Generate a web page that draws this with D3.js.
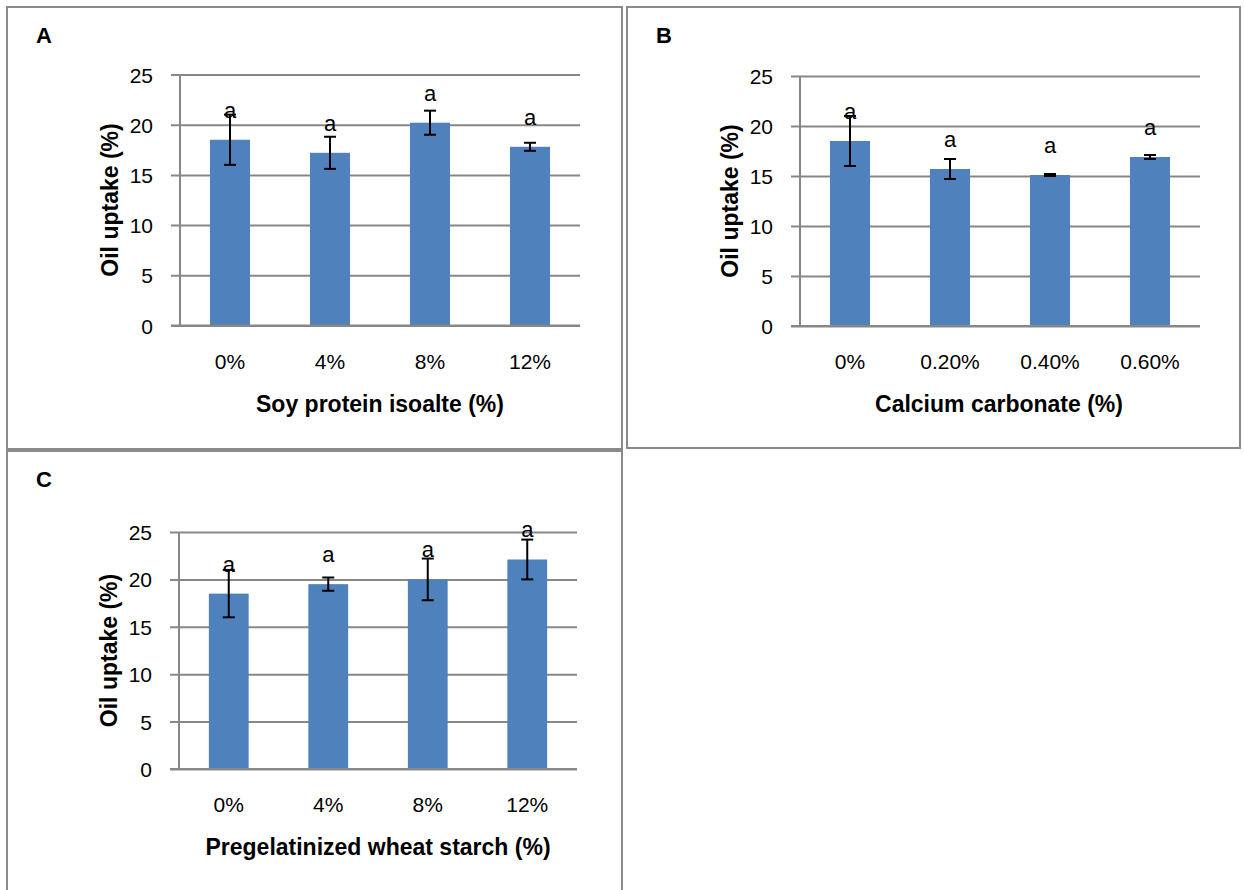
<!DOCTYPE html>
<html><head><meta charset="utf-8">
<script src="https://cdn.jsdelivr.net/npm/d3@7"></script>
<style>body{margin:0;background:#fff}svg{display:block}</style>
</head><body>
<svg id="c" width="1244" height="890"></svg>
<script>
// ---- data ----
const catsA = ["0%", "4%", "8%", "12%"];
const valsA = [18.5, 17.2, 20.2, 17.8];
const errA  = [2.5, 1.6, 1.2, 0.4];
const lblA  = ["a", "a", "a", "a"];

const catsB = ["0%", "0.20%", "0.40%", "0.60%"];
const valsB = [18.5, 15.7, 15.1, 16.9];
const errB  = [2.5, 1.0, 0.1, 0.2];
const lblB  = ["a", "a", "a", "a"];

const catsC = ["0%", "4%", "8%", "12%"];
const valsC = [18.5, 19.5, 20.0, 22.1];
const errC  = [2.5, 0.7, 2.2, 2.1];
const lblC  = ["a", "a", "a", "a"];

const yTicks = [0, 5, 10, 15, 20, 25];
const yTitle = "Oil uptake (%)";
const xTitles = ["Soy protein isoalte (%)", "Calcium carbonate (%)", "Pregelatinized wheat starch (%)"];
const panelLetters = ["A", "B", "C"];

// ---- layout ----
const panels = [
  {letter: panelLetters[0], cats: catsA, vals: valsA, errs: errA, lbls: lblA, xt: xTitles[0],
   frame: [7, 7, 622, 449], x0: 180, x1: 580, yTop: 74.5, yBot: 325.5, xtCx: 380},
  {letter: panelLetters[1], cats: catsB, vals: valsB, errs: errB, lbls: lblB, xt: xTitles[1],
   frame: [627, 7, 1240, 448], x0: 800, x1: 1200, yTop: 76, yBot: 326, xtCx: 999},
  {letter: panelLetters[2], cats: catsC, vals: valsC, errs: errC, lbls: lblC, xt: xTitles[2],
   frame: [7, 451, 622, 895], x0: 179, x1: 577, yTop: 532, yBot: 769, xtCx: 378}
];

const svg = d3.select("#c");
const FONT = "'Liberation Sans', Arial, sans-serif";
const GRID = "#878787";
const BAR = "#4F81BD";

panels.forEach(p => {
  const g = svg.append("g");
  const [fx0, fy0, fx1, fy1] = p.frame;
  g.append("rect").attr("x", fx0).attr("y", fy0).attr("width", fx1 - fx0).attr("height", fy1 - fy0)
    .attr("fill", "#fff").attr("stroke", "#8a8a8a").attr("stroke-width", 2);

  g.append("text").attr("x", fx0 + 29).attr("y", fy0 + 36).text(p.letter)
    .attr("font-family", FONT).attr("font-weight", "bold").attr("font-size", 22).attr("fill", "#000");

  const x = d3.scaleBand().domain(p.cats).range([p.x0, p.x1]).paddingInner(0.6).paddingOuter(0.3);
  const y = d3.scaleLinear().domain([0, 25]).range([p.yBot, p.yTop]);

  // gridlines + ticks
  const yAxis = d3.axisLeft(y).tickValues(yTicks).tickSize(-(p.x1 - p.x0)).tickPadding(0).tickFormat(d => d);
  const ya = g.append("g").attr("transform", `translate(${p.x0},0)`).call(yAxis);
  ya.select(".domain").remove();
  ya.selectAll(".tick line").attr("stroke", GRID).attr("stroke-width", 2).attr("x1", -9);
  ya.selectAll(".tick text").attr("x", -27).attr("dy", "0.36em")
    .attr("font-family", FONT).attr("font-size", 21).attr("fill", "#000");

  // vertical axis line
  g.append("line").attr("x1", p.x0).attr("x2", p.x0).attr("y1", p.yTop).attr("y2", p.yBot)
    .attr("stroke", GRID).attr("stroke-width", 2);

  // bars
  g.selectAll("rect.bar").data(p.vals).enter().append("rect").attr("class", "bar")
    .attr("x", (d, i) => x(p.cats[i])).attr("width", x.bandwidth())
    .attr("y", d => y(d)).attr("height", d => y(0) - y(d)).attr("fill", BAR);

  // baseline redraw over bars
  g.append("line").attr("x1", p.x0 - 9).attr("x2", p.x1).attr("y1", y(0)).attr("y2", y(0))
    .attr("stroke", GRID).attr("stroke-width", 2);

  // error bars
  const eb = g.selectAll("g.eb").data(p.vals).enter().append("g").attr("class", "eb");
  const cx = i => x(p.cats[i]) + x.bandwidth() / 2;
  eb.append("line").attr("x1", (d, i) => cx(i)).attr("x2", (d, i) => cx(i))
    .attr("y1", (d, i) => y(d - p.errs[i])).attr("y2", (d, i) => y(d + p.errs[i]))
    .attr("stroke", "#000").attr("stroke-width", 2);
  [-1, 1].forEach(s => {
    eb.append("line").attr("x1", (d, i) => cx(i) - 6).attr("x2", (d, i) => cx(i) + 6)
      .attr("y1", (d, i) => y(d + s * p.errs[i])).attr("y2", (d, i) => y(d + s * p.errs[i]))
      .attr("stroke", "#000").attr("stroke-width", 2);
  });

  // letters
  g.selectAll("text.lbl").data(p.vals).enter().append("text").attr("class", "lbl")
    .attr("x", (d, i) => cx(i)).attr("y", d => y(d) - 22).attr("text-anchor", "middle")
    .text((d, i) => p.lbls[i]).attr("font-family", FONT).attr("font-size", 22).attr("fill", "#000");

  // x tick labels
  const xAxis = d3.axisBottom(x).tickSize(0).tickPadding(0);
  const xa = g.append("g").attr("transform", `translate(0,${p.yBot})`).call(xAxis);
  xa.select(".domain").remove();
  xa.selectAll(".tick text").attr("y", 43).attr("dy", 0)
    .attr("font-family", FONT).attr("font-size", 21).attr("fill", "#000");

  // x title
  g.append("text").attr("x", p.xtCx).attr("y", p.yBot + 86).attr("text-anchor", "middle").text(p.xt)
    .attr("font-family", FONT).attr("font-weight", "bold").attr("font-size", 23).attr("fill", "#000");

  // y title
  g.append("text").attr("transform", `translate(${p.x0 - 62},${(p.yTop + p.yBot) / 2}) rotate(-90)`)
    .attr("text-anchor", "middle").text(yTitle)
    .attr("font-family", FONT).attr("font-weight", "bold").attr("font-size", 23).attr("fill", "#000");
});
</script>
</body></html>
